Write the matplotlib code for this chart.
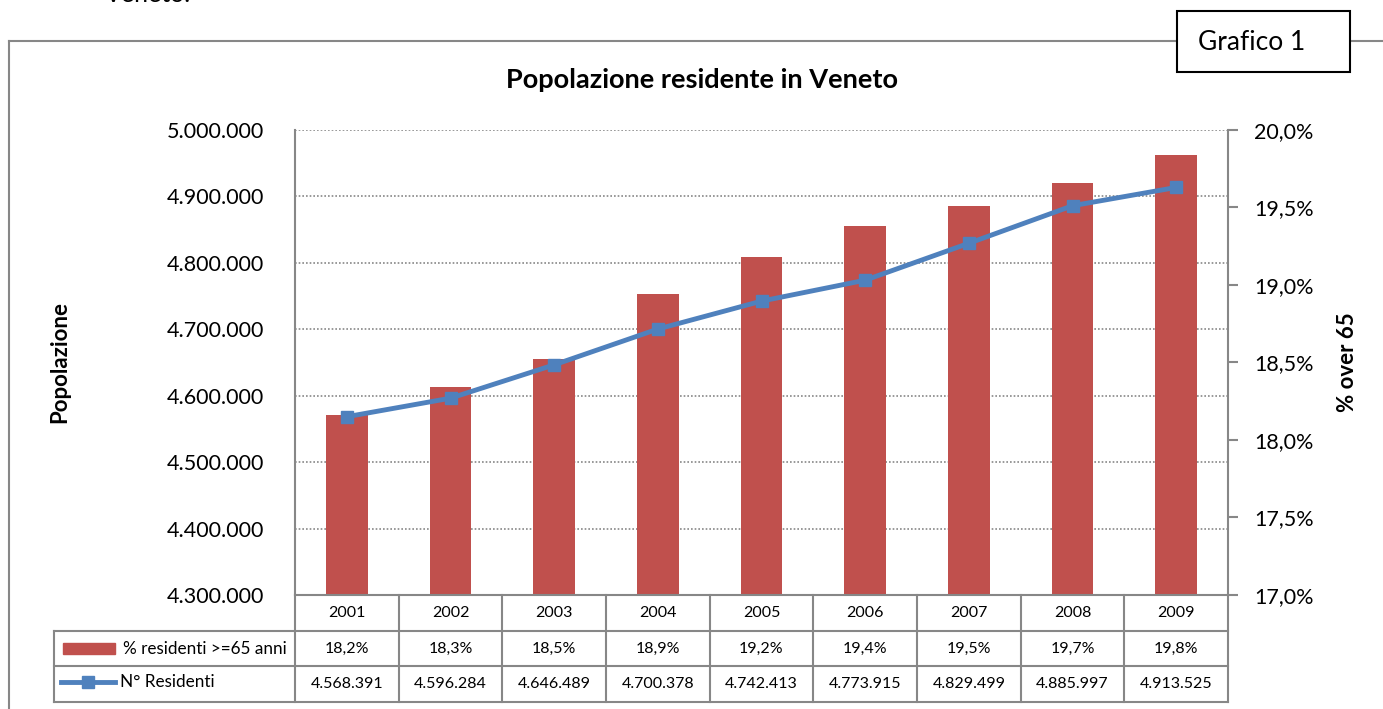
import matplotlib
matplotlib.use("Agg")
import matplotlib.pyplot as plt
from matplotlib.lines import Line2D
from matplotlib.patches import Rectangle
import numpy as np

plt.rcParams['font.family'] = ['Lato', 'DejaVu Sans']

# dati
anni = ['2001', '2002', '2003', '2004', '2005', '2006', '2007', '2008', '2009']
perc_over65 = [18.16, 18.34, 18.52, 18.94, 19.18, 19.38, 19.51, 19.66, 19.84]
residenti = [4568391, 4596284, 4646489, 4700378, 4742413, 4773915, 4829499, 4885997, 4913525]
pop_ticks = [4300000, 4400000, 4500000, 4600000, 4700000, 4800000, 4900000, 5000000]
perc_ticks = [17.0, 17.5, 18.0, 18.5, 19.0, 19.5, 20.0]

RED = '#C0504D'
BLUE = '#4F81BD'
GRAY = '#878787'

W, H = 1383, 709
def fx(px):
    return px / W
def fy(py):
    return 1 - py / H

def it_num(v):
    return f"{v:,}".replace(",", ".")

def it_pct(v):
    return f"{v:.1f}%".replace(".", ",")

fig = plt.figure(figsize=(13.83, 7.09), dpi=100)

# cornice esterna
fig.add_artist(Line2D([fx(9), fx(1383)], [fy(41), fy(41)], color=GRAY, lw=1.5))
fig.add_artist(Line2D([fx(9), fx(9)], [fy(41), fy(709)], color=GRAY, lw=1.5))
fig.add_artist(Rectangle((fx(1177), fy(72)), fx(173), 61 / H, facecolor='white',
                         edgecolor='black', lw=1.5, zorder=5))
fig.text(fx(1198), fy(43), 'Grafico 1', ha='left', va='center', fontsize=19, zorder=6)
fig.text(fx(105), fy(2), 'Veneto.', ha='left', va='baseline', fontsize=18)

x = np.arange(len(anni))

# barre (% over 65) asse destro
axb = fig.add_axes([fx(295), fy(595), 933 / W, 465 / H])
axb.bar(x, perc_over65, width=0.4, color=RED, zorder=2)
axb.set_xlim(-0.5, len(anni) - 0.5)
axb.set_ylim(17, 20)
axb.set_xticks([])
# griglia sulle tacche della popolazione
grid_pos = [17 + (p - pop_ticks[0]) / (pop_ticks[-1] - pop_ticks[0]) * 3 for p in pop_ticks[1:]]
for g in grid_pos:
    axb.axhline(g, color=GRAY, lw=1.2, ls=(0, (1, 1.2)), zorder=1)
axb.spines['top'].set_visible(False)
for s in ['left', 'right', 'bottom']:
    axb.spines[s].set_color(GRAY)
    axb.spines[s].set_linewidth(1.5)

# linea residenti asse sinistro
axl = axb.twinx()
axl.plot(x, residenti, color=BLUE, lw=3.5, marker='s', markersize=9,
         markerfacecolor=BLUE, markeredgecolor=BLUE, zorder=3)
axl.set_ylim(pop_ticks[0], pop_ticks[-1])
axl.yaxis.tick_left()
axl.set_yticks(pop_ticks)
axl.set_yticklabels([it_num(t) for t in pop_ticks], fontsize=15.5)
axl.tick_params(axis='y', length=0, pad=22)
for s in axl.spines.values():
    s.set_visible(False)

# tacche percentuali a destra (dopo twinx)
axb.yaxis.tick_right()
axb.set_yticks(perc_ticks)
axb.set_yticklabels([it_pct(t) for t in perc_ticks], fontsize=15.5)
axb.tick_params(axis='y', length=7, width=1.5, color=GRAY, pad=12)

fig.text(fx(60), fy(362), 'Popolazione', rotation=90, ha='center', va='center',
         fontsize=16, fontweight='bold')
fig.text(fx(1348), fy(362), '% over 65', rotation=90, ha='center', va='center',
         fontsize=16, fontweight='bold')
fig.text(fx(702), fy(80), 'Popolazione residente in Veneto', ha='center', va='center',
         fontsize=19.5, fontweight='bold')

# tabella dati
left_unit = -0.5 - (295 - 54) / (933 / 9)
axt = fig.add_axes([fx(54), fy(702), (1228 - 54) / W, (702 - 595) / H])
axt.set_xlim(left_unit, len(anni) - 0.5)
axt.set_ylim(0, 3)
axt.axis('off')
lc = dict(color=GRAY, lw=1.5, clip_on=False)
for yy in [0, 1, 2]:
    axt.plot([left_unit, len(anni) - 0.5], [yy, yy], **lc)
axt.plot([left_unit, left_unit], [0, 2], **lc)
for k in range(len(anni) + 1):
    axt.plot([k - 0.5, k - 0.5], [0, 3], **lc)
for i in range(len(anni)):
    axt.text(x[i], 2.5, anni[i], ha='center', va='center', fontsize=11.5)
    axt.text(x[i], 1.5, it_pct(perc_over65[i]), ha='center', va='center', fontsize=11.5)
    axt.text(x[i], 0.5, it_num(residenti[i]), ha='center', va='center', fontsize=11.5)
u = 933 / 9
def ux(px):
    return left_unit + (px - 54) / u
axt.add_patch(Rectangle((ux(63), 1.35), ux(115) - ux(63), 0.3, color=RED))
axt.text(ux(123), 1.5, '% residenti >=65 anni', ha='left', va='center', fontsize=12.3)
axt.plot([ux(61), ux(115)], [0.55, 0.55], color=BLUE, lw=3.5)
axt.plot([ux(88)], [0.55], marker='s', markersize=9, color=BLUE)
axt.text(ux(120), 0.55, 'N° Residenti', ha='left', va='center', fontsize=12.3)

fig.savefig('out.png', dpi=100)
